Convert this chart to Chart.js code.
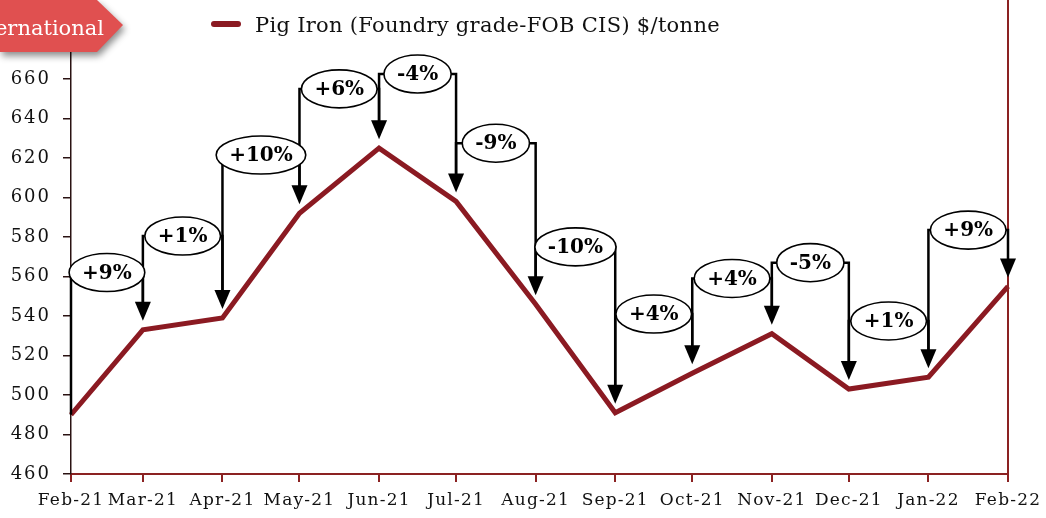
<!DOCTYPE html>
<html><head><meta charset="utf-8">
<script src="https://cdn.jsdelivr.net/npm/chart.js@4"></script>
<style>html,body{margin:0;padding:0;background:#fff;overflow:hidden}</style>
</head><body>
<canvas id="c" width="1046" height="518"></canvas>
<script>
const categories = ['Feb-21','Mar-21','Apr-21','May-21','Jun-21','Jul-21','Aug-21','Sep-21','Oct-21','Nov-21','Dec-21','Jan-22','Feb-22'];
const monthDates = ['2021-02-01','2021-03-01','2021-04-01','2021-05-01','2021-06-01','2021-07-01','2021-08-01','2021-09-01','2021-10-01','2021-11-01','2021-12-01','2022-01-01','2022-02-01'];
const prices = [490, 533, 539, 592, 625, 598, 546, 491, 511, 531, 503, 509, 555];
const changeLabels = ['+9%','+1%','+10%','+6%','-4%','-9%','-10%','+4%','+4%','-5%','+1%','+9%'];
const calloutLevels = [562, 580.5, 621.5, 655, 662.5, 627.5, 575, 541, 559, 567, 537.5, 583.5];
const seriesName = 'Pig Iron (Foundry grade-FOB CIS) $/tonne';
const bannerText = 'International';

const dayOffsets = monthDates.map(d => (Date.parse(d) - Date.parse(monthDates[0])) / 86400000);

const LINE = '#8B1A22';
const AXIS_RED = '#8B2222';
const SERIF = '"DejaVu Serif", "Liberation Serif", serif';

function withSpacing(scale, spacing) {
  if (scale._spacedDraw) return;
  const orig = scale.drawLabels;
  scale.drawLabels = function (ca) {
    const ctx = this.ctx;
    const prev = ctx.letterSpacing;
    ctx.letterSpacing = spacing;
    orig.call(this, ca);
    ctx.letterSpacing = prev || '0px';
  };
  scale._spacedDraw = true;
}

const spacingPlugin = {
  id: 'spacing',
  afterLayout(chart) {
    withSpacing(chart.scales.x, '1.2px');
    withSpacing(chart.scales.y, '2px');
  }
};

const decorPlugin = {
  id: 'decor',
  afterDatasetsDraw(chart) {
    const ctx = chart.ctx, xs = chart.scales.x, ys = chart.scales.y, ca = chart.chartArea;
    ctx.save();
    ctx.letterSpacing = '0px';
    // right border
    ctx.strokeStyle = AXIS_RED; ctx.lineWidth = 2;
    ctx.beginPath(); ctx.moveTo(ca.right, ca.top); ctx.lineTo(ca.right, ca.bottom + 8); ctx.stroke();

    ctx.font = 'bold 20px ' + SERIF;
    const shapes = [];
    for (let i = 0; i < changeLabels.length; i++) {
      const x0 = xs.getPixelForValue(dayOffsets[i]);
      const x1 = xs.getPixelForValue(dayOffsets[i + 1]);
      const y0 = ys.getPixelForValue(prices[i]);
      const y1 = ys.getPixelForValue(prices[i + 1]);
      const yL = ys.getPixelForValue(calloutLevels[i]);
      const tw = ctx.measureText(changeLabels[i]).width;
      const w = tw + 26, h = 38, cx = (x0 + x1) / 2;
      const tipY = y1 - 9;
      ctx.strokeStyle = '#000'; ctx.lineWidth = 2.5; ctx.lineJoin = 'miter';
      ctx.beginPath();
      ctx.moveTo(x0, i === 0 ? y0 : y0 - 25);
      ctx.lineTo(x0, yL);
      ctx.lineTo(Math.max(x0, cx - w / 2 + 1), yL);
      ctx.stroke();
      ctx.beginPath();
      ctx.moveTo(Math.min(x1, cx + w / 2 - 1), yL);
      ctx.lineTo(x1, yL);
      ctx.lineTo(x1, tipY - 16);
      ctx.stroke();
      shapes.push({cx, yL, w, h, x1, tipY, label: changeLabels[i]});
    }
    for (const s of shapes) {
      ctx.beginPath();
      ctx.ellipse(s.cx, s.yL, s.w / 2, s.h / 2, 0, 0, Math.PI * 2);
      ctx.fillStyle = '#fff'; ctx.fill();
      ctx.lineWidth = 1.6; ctx.strokeStyle = '#000'; ctx.stroke();
      ctx.fillStyle = '#000'; ctx.textAlign = 'center'; ctx.textBaseline = 'middle';
      ctx.fillText(s.label, s.cx, s.yL + 1);
      ctx.beginPath();
      ctx.moveTo(s.x1 - 8, s.tipY - 19);
      ctx.lineTo(s.x1 + 8, s.tipY - 19);
      ctx.lineTo(s.x1, s.tipY);
      ctx.closePath();
      ctx.fill();
    }

    // legend
    ctx.strokeStyle = LINE; ctx.lineWidth = 6; ctx.lineCap = 'round';
    ctx.beginPath(); ctx.moveTo(214, 24); ctx.lineTo(238, 24); ctx.stroke();
    ctx.lineCap = 'butt';
    ctx.font = '21px ' + SERIF; ctx.fillStyle = '#111'; ctx.textAlign = 'left'; ctx.textBaseline = 'alphabetic';
    ctx.letterSpacing = '0.3px';
    ctx.fillText(seriesName, 255, 32);
    ctx.letterSpacing = '0px';

    // banner
    ctx.save();
    ctx.shadowColor = 'rgba(0,0,0,0.45)'; ctx.shadowBlur = 7; ctx.shadowOffsetY = 4; ctx.shadowOffsetX = 2;
    ctx.fillStyle = '#E05050';
    ctx.beginPath();
    ctx.moveTo(0, 0); ctx.lineTo(97, 0); ctx.lineTo(123, 25); ctx.lineTo(97, 52); ctx.lineTo(0, 52); ctx.closePath();
    ctx.fill();
    ctx.restore();
    ctx.fillStyle = '#fff'; ctx.font = '21px ' + SERIF; ctx.textAlign = 'right'; ctx.textBaseline = 'alphabetic';
    ctx.fillText(bannerText, 104, 35);
    ctx.restore();
  }
};

new Chart(document.getElementById('c'), {
  type: 'line',
  data: {
    datasets: [{
      label: seriesName,
      data: prices.map((p, i) => ({x: dayOffsets[i], y: p})),
      borderColor: LINE,
      borderWidth: 5,
      pointRadius: 0,
      tension: 0,
      borderJoinStyle: 'miter',
      clip: false
    }]
  },
  options: {
    responsive: false,
    animation: false,
    devicePixelRatio: 1,
    layout: {padding: {left: 0, top: 0, bottom: 0, right: 38}},
    plugins: {legend: {display: false}, tooltip: {enabled: false}},
    scales: {
      x: {
        type: 'linear',
        min: dayOffsets[0],
        max: dayOffsets[dayOffsets.length - 1],
        afterBuildTicks(scale) { scale.ticks = dayOffsets.map(v => ({value: v})); },
        afterFit(scale) { scale.height = 44; scale.paddingLeft = 0; scale.paddingRight = 0; },
        ticks: {
          autoSkip: false, maxRotation: 0, padding: 8,
          color: '#111', font: {family: SERIF, size: 17},
          callback(v, i) { return categories[i]; }
        },
        grid: {drawOnChartArea: false, drawTicks: true, tickLength: 8, color: AXIS_RED, lineWidth: 2},
        border: {color: AXIS_RED, width: 2}
      },
      y: {
        min: 460, max: 700,
        afterFit(scale) { scale.width = 71; scale.paddingTop = 0; scale.paddingBottom = 0; },
        ticks: {stepSize: 20, padding: 12, color: '#111', font: {family: SERIF, size: 18}},
        grid: {drawOnChartArea: false, drawTicks: true, tickLength: 8, color: '#2a1212', lineWidth: 1.5},
        border: {color: '#2a1212', width: 1.5}
      }
    }
  },
  plugins: [spacingPlugin, decorPlugin]
});
</script>
</body></html>
